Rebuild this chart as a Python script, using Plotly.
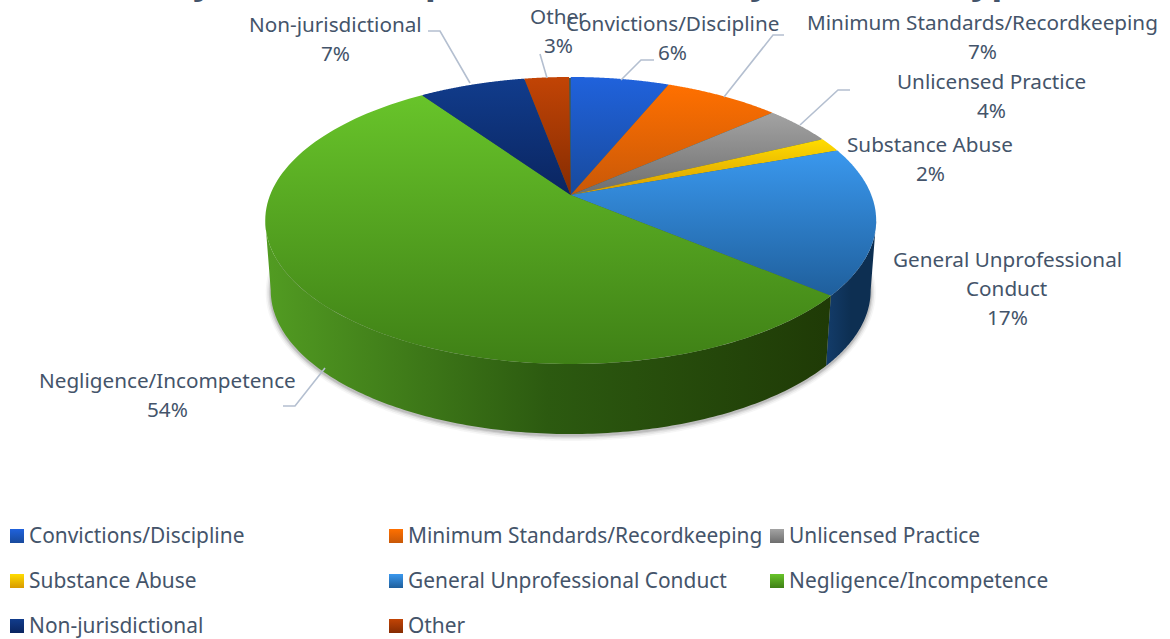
import math
import numpy as np
import plotly.graph_objects as go

categories = ["Convictions/Discipline", "Minimum Standards/Recordkeeping", "Unlicensed Practice",
              "Substance Abuse", "General Unprofessional Conduct", "Negligence/Incompetence",
              "Non-jurisdictional", "Other"]
values = [6.2, 7.3, 4.4, 1.6, 16.6, 54.3, 6.7, 2.8]
top_colors = ["#2062dc", "#ff7000", "#a3a3a3", "#ffdc00", "#3a98ee", "#68c42a", "#113c8c", "#c24405"]
bottom_colors = ["#184a9c", "#c85808", "#6e6e6e", "#d89a00", "#1f5f9c", "#3f8016", "#0a2560", "#852c02"]
wall_left = ["#123a66", "#123a66", "#555555", "#8a6a00", "#133c6a", "#529c22", "#0a2560", "#852c02"]
wall_right = ["#0e3054", "#0e3054", "#444444", "#705500", "#0d2f52", "#1f3a06", "#0a2560", "#852c02"]

# label text lines and anchor, in page pixels
label_lines = [["Convictions/Discipline"], ["Minimum Standards/Recordkeeping"], ["Unlicensed Practice"],
               ["Substance Abuse"], ["General Unprofessional", "Conduct"], ["Negligence/Incompetence"],
               ["Non-jurisdictional"], ["Other"]]
label_pos = [(672, 23), (982, 22), (991, 81), (930, 144), (1007, 259), (167, 380), (335, 24), (558, 16)]

legend_pos = [(17, 536), (396, 536), (777, 536), (17, 581), (396, 581), (777, 581), (17, 626), (396, 626)]

# leader lines: page pixel elbows from the label to the rim
leaders = [[(654, 60), (641, 60), (621, 80)], [(784, 35), (773, 35), (724, 97)], [(850, 90), (838, 90), (800, 125)],
           [(283, 406), (295, 406), (325, 368)], [(428, 31), (440, 31), (470, 83)], [(540, 54), (547, 78)]]

# readable fragments of the title that is cut off by the top edge
title_bits = [("y", 203), ("p", 436), ("y", 760), ("yp", 992)]

W, H = 1170, 639
CX, APEX_Y, A, B, K = 570.7, 195.0, 300.6, 139.0, 0.1777
DEPTH, SHRINK = 70.0, 0.982
INK = "#44546a"


def rim(t, depth=0.0, scale=1.0):
    u, v = np.sin(t), -np.cos(t)
    d = 1 - K * v
    return CX + scale * A * u / d, APEX_Y + depth + B * v / d


fig = go.Figure()

# soft shadow under the wall
full = np.linspace(0, 2 * math.pi, 720)
sx, sy = rim(full, DEPTH, SHRINK)
for grow, alpha in [(5, 0.05), (3.5, 0.08), (2, 0.12), (1, 0.16)]:
    mx, my = sx.mean(), sy.mean()
    fx = mx + (sx - mx) * (1 + grow / 300)
    fy = my + (sy - my) * (1 + grow / 145) + 1.5
    fig.add_trace(go.Scatter(x=fx, y=fy, mode="none", fill="toself",
                             fillcolor=f"rgba(70,70,70,{alpha})", hoverinfo="skip", showlegend=False))

edges = np.cumsum([0] + values) / 100 * 2 * math.pi

# the wall is visible between the rim's rightmost and leftmost points
rim_x = rim(full)[0]
t_right, t_left = full[int(np.argmax(rim_x))], full[int(np.argmin(rim_x))]

for i in range(len(values)):
    lo, hi = max(edges[i], t_right), min(edges[i + 1], t_left)
    if lo >= hi:
        continue
    t = np.linspace(lo, hi, 160)
    tx, ty = rim(t)
    bx, by = rim(t, DEPTH, SHRINK)
    fig.add_trace(go.Scatter(
        x=np.r_[tx, bx[::-1], tx[0]], y=np.r_[ty, by[::-1], ty[0]], mode="none", fill="toself",
        fillgradient=dict(type="horizontal", start=float(min(tx.min(), bx.min())), stop=float(max(tx.max(), bx.max())),
                          colorscale=[[0, wall_left[i]], [0.5, "#2c5a10" if i == 5 else wall_right[i]], [1, wall_right[i]]]),
        hoverinfo="skip", showlegend=False))

# dark underlay so that no white shows through the seams of the top faces
ux, uy = rim(full)
um_x, um_y = ux.mean(), uy.mean()
fig.add_trace(go.Scatter(x=um_x + (ux - um_x) * 0.996, y=um_y + (uy - um_y) * 0.992, mode="none", fill="toself",
                         fillcolor="#3a5a50", hoverinfo="skip", showlegend=False))

# top faces
for i in range(len(values)):
    t = np.linspace(edges[i], edges[i + 1], 120)
    tx, ty = rim(t)
    px, py = np.r_[CX, tx, CX], np.r_[APEX_Y, ty, APEX_Y]
    fig.add_trace(go.Scatter(
        x=px, y=py, mode="none", fill="toself",
        fillgradient=dict(type="vertical", start=float(py.min()), stop=float(py.max()),
                          colorscale=[[0, top_colors[i]], [1, bottom_colors[i]]]),
        hoverinfo="skip", showlegend=False))

# leader lines
for pts in leaders:
    fig.add_trace(go.Scatter(x=[p[0] for p in pts], y=[p[1] for p in pts], mode="lines",
                             line=dict(color="#b4bfd0", width=1.6), hoverinfo="skip", showlegend=False))

FONT = dict(family="Noto Sans", size=20.7, color=INK)
annotations = []

# legend entries
for i, name in enumerate(categories):
    fig.add_trace(go.Scatter(
        x=[legend_pos[i][0]], y=[legend_pos[i][1]], mode="markers",
        marker=dict(symbol="square", size=14, color=top_colors[i], line=dict(width=0),
                    gradient=dict(type="vertical", color=bottom_colors[i])),
        hoverinfo="skip", showlegend=False))
    annotations.append(dict(x=legend_pos[i][0] + 10, y=legend_pos[i][1] - 1, text=name, xref="x", yref="y",
                            showarrow=False, xanchor="left", yanchor="middle",
                            font=dict(family="Noto Sans", size=20.9, color=INK)))

LINE = 29
for i, lines in enumerate(label_lines):
    x, y = label_pos[i]
    rows = lines + [f"{round(values[i])}%"]
    for r, txt in enumerate(rows):
        annotations.append(dict(x=x, y=y + r * LINE, text=txt, xref="x", yref="y", showarrow=False,
                                xanchor="center", yanchor="middle", font=FONT))

for txt, x in title_bits:
    annotations.append(dict(x=x, y=6, text=f"<b>{txt}</b>", xref="x", yref="y", showarrow=False,
                            xanchor="center", yanchor="bottom",
                            font=dict(family="Noto Sans", size=36, color=INK)))

fig.update_layout(
    width=W, height=H, margin=dict(l=0, r=0, t=0, b=0), showlegend=False,
    paper_bgcolor="white", plot_bgcolor="white", annotations=annotations,
    xaxis=dict(range=[0, W], visible=False, fixedrange=True),
    yaxis=dict(range=[H, 0], visible=False, fixedrange=True),
)
fig.write_html("out.html", config={"displayModeBar": False},
               post_script="document.body.style.margin='0';document.documentElement.style.overflow='hidden';")
